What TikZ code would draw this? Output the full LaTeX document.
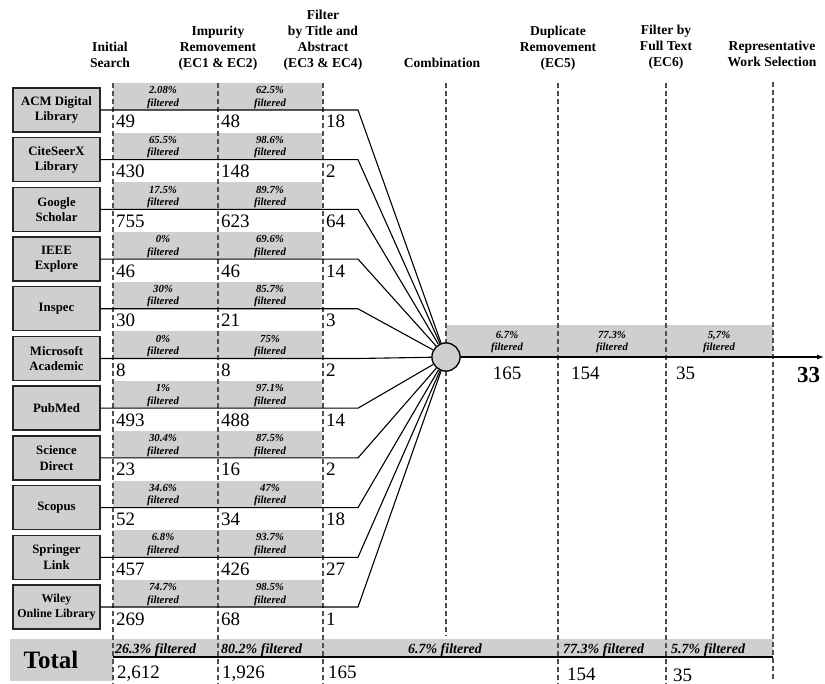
\documentclass[tikz,border=0pt]{standalone}
\usepackage{fontspec}
\setmainfont{Liberation Serif}
\usetikzlibrary{arrows.meta}
\definecolor{band}{RGB}{208,207,207}
\definecolor{dashc}{RGB}{80,80,80}
\begin{document}
\begin{tikzpicture}[x=1pt,y=-1pt,
  srcbox/.style={draw=black!85, line width=1.4pt, fill=band, minimum width=87pt, minimum height=44pt, inner sep=0pt, align=center},
  pct/.style={align=center, inner sep=0pt, font=\fontsize{10.8}{12.5}\selectfont\bfseries\itshape},
  num/.style={anchor=base west, inner sep=0pt, font=\fontsize{19}{19}\selectfont},
  hdr/.style={anchor=base, align=center, inner sep=0pt, font=\fontsize{13.6}{16.3}\selectfont\bfseries},
  colline/.style={draw=dashc, line width=1.3pt, dash pattern=on 5pt off 3pt},
  conn/.style={draw=black, line width=1.1pt},
  totpct/.style={inner sep=0pt, font=\fontsize{14}{14}\selectfont\bfseries\itshape},
]
\useasboundingbox (0,0) rectangle (825,684);
% gray bands
\foreach \i in {0,...,10}{
  \fill[band] (113,{110+49.7*\i-27}) rectangle (322,{110+49.7*\i});
}
\fill[band] (446,325) rectangle (773,357);
\fill[band] (10,639) rectangle (113,681);
\fill[band] (113,639) rectangle (773,657);
% dashed column lines
\foreach \x in {113,218,323,558,666}{
  \draw[colline] (\x,83) -- (\x,684);
}
\draw[colline] (446,83) -- (446,636);
\draw[colline] (773,82) -- (773,680);
% headers
\node[hdr] (h1) at (110,68) {Initial\\Search};
\node[hdr] (h2) at (218,68) {Impurity\\Removement\\(EC1 \& EC2)};
\node[hdr] (h3) at (323,68) {Filter\\by Title and\\Abstract\\(EC3 \& EC4)};
\node[hdr] (h4) at (442,68) {Combination};
\node[hdr] (h5) at (558,68) {Duplicate\\Removement\\(EC5)};
\node[hdr] (h6) at (666,67) {Filter by\\Full Text\\(EC6)};
\node[hdr] (h7) at (772,67) {Representative\\Work Selection};
% combination circle
\node[circle, draw, line width=1.2pt, fill=band, minimum size=28pt, inner sep=0pt] (comb) at (446,357) {};
% rows
\foreach \i/\name/\fs/\va/\pa/\vb/\pb/\vc in {
  0/{ACM Digital\\Library}/12.8/49/2.08\%/48/62.5\%/18,
  1/{CiteSeerX\\Library}/12.8/430/65.5\%/148/98.6\%/2,
  2/{Google\\Scholar}/12.8/755/17.5\%/623/89.7\%/64,
  3/{IEEE\\Explore}/12.8/46/0\%/46/69.6\%/14,
  4/{Inspec}/12.8/30/30\%/21/85.7\%/3,
  5/{Microsoft\\Academic}/12.8/8/0\%/8/75\%/2,
  6/{PubMed}/12.8/493/1\%/488/97.1\%/14,
  7/{Science\\Direct}/12.8/23/30.4\%/16/87.5\%/2,
  8/{Scopus}/12.8/52/34.6\%/34/47\%/18,
  9/{Springer\\Link}/12.8/457/6.8\%/426/93.7\%/27,
  10/{Wiley\\Online Library}/12/269/74.7\%/68/98.5\%/1}{
  \pgfmathsetmacro{\yy}{110+49.7*\i}
  \node[srcbox, font=\fontsize{\fs}{15.5}\selectfont\bfseries] (b\i) at (56.5,\yy) {\name};
  \coordinate (t\i) at (358,\yy);
  \draw[conn] (b\i.east) -- (t\i) -- (comb);
  \node[pct] (pa\i) at (163,\yy-12.5) {\pa\\filtered};
  \node[pct] (pb\i) at (270,\yy-12.5) {\pb\\filtered};
  \node[num] (va\i) at (116,\yy+18) {\va};
  \node[num] (vb\i) at (221,\yy+18) {\vb};
  \node[num] (vc\i) at (326,\yy+18) {\vc};
}
% redraw circle on top
\node[circle, draw, line width=1.2pt, fill=band, minimum size=28pt, inner sep=0pt] (comb2) at (comb) {};
% main arrow
\coordinate (arrowend) at (824,357);
\draw[conn, -{Latex[length=7pt,width=5pt]}] (comb2) -- (arrowend);
\node[pct] (pc) at (507,342) {6.7\%\\filtered};
\node[pct] (pd) at (612,342) {77.3\%\\filtered};
\node[pct] (pe) at (719,342) {5,7\%\\filtered};
\node[num, anchor=base] (n165) at (507,380) {165};
\node[num] (n154) at (571,380) {154};
\node[num] (n35) at (676,380) {35};
\node[num, font=\fontsize{23}{23}\selectfont\bfseries] (n33) at (797,383) {33};
% total row
\node[inner sep=0pt, font=\fontsize{25}{25}\selectfont\bfseries] (total) at (51,660) {Total};
\coordinate (tl) at (113,657);
\coordinate (tr) at (773,657);
\draw[conn] (tl) -- (tr);
\node[totpct, anchor=base west] (tp1) at (115,653) {26.3\% filtered};
\node[totpct, anchor=base west] (tp2) at (221,653) {80.2\% filtered};
\node[totpct, anchor=base] (tp3) at (445,653) {6.7\% filtered};
\node[totpct, anchor=base west] (tp4) at (563,653) {77.3\% filtered};
\node[totpct, anchor=base west] (tp5) at (671,653) {5.7\% filtered};
\node[num] (tn1) at (117,678) {2,612};
\node[num] (tn2) at (222,678) {1,926};
\node[num] (tn3) at (328,678) {165};
\node[num] (tn4) at (567,680) {154};
\node[num] (tn5) at (673,681) {35};
\end{tikzpicture}
\end{document}
